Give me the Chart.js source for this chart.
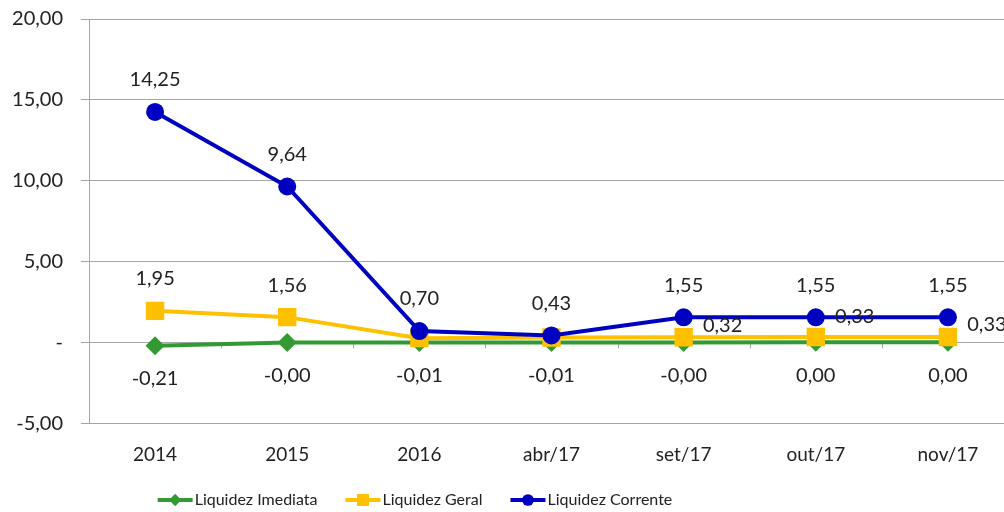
<!DOCTYPE html>
<html>
<head>
<meta charset="utf-8">
<script src="https://cdn.jsdelivr.net/npm/chart.js@4.4.0/dist/chart.umd.min.js"></script>
<style>
    html, body { margin: 0; padding: 0; background: #fff; overflow: hidden; }
    #grafico { display: block; }
</style>
</head>
<body>
<canvas id="grafico" width="1027" height="512"></canvas>
<script>
// --- Dados ---
const categorias = ['2014', '2015', '2016', 'abr/17', 'set/17', 'out/17', 'nov/17'];
const liquidezImediata = [-0.21, -0.004, -0.01, -0.01, -0.003, 0.003, 0.003];
const liquidezGeral = [1.95, 1.56, 0.26, 0.30, 0.32, 0.33, 0.33];
const liquidezCorrente = [14.25, 9.64, 0.70, 0.43, 1.55, 1.55, 1.55];
const nomesSeries = ['Liquidez Imediata', 'Liquidez Geral', 'Liquidez Corrente'];
const ticksY = [-5, 0, 5, 10, 15, 20];
// rótulos ocultos no original (ficam por baixo da linha azul)
const rotulosOcultosGeral = [2, 3];

const FONTE = 'Lato, "Open Sans", sans-serif';
const COR_TEXTO = '#222';
const COR_GRADE = '#a6a6a6';

// formato brasileiro com duas casas
const fmt = (v) => v.toFixed(2).replace('.', ',');

// --- Rótulos de dados ---
const pluginRotulos = {
    id: 'rotulos',
    afterDatasetsDraw(chart) {
        const ctx = chart.ctx;
        ctx.save();
        ctx.font = '20px ' + FONTE;
        ctx.fillStyle = COR_TEXTO;
        ctx.textAlign = 'center';
        ctx.textBaseline = 'middle';
        chart.data.datasets.forEach((ds, i) => {
            const meta = chart.getDatasetMeta(i);
            meta.data.forEach((pt, j) => {
                const v = ds.data[j];
                let dx = 0, dy = -32;
                if (ds.rotulo === 'abaixo') dy = 33;
                if (ds.rotulo === 'geral') {
                    if (rotulosOcultosGeral.includes(j)) return;
                    if (j >= 4) { dx = 39; dy = j === 5 ? -20 : -12; }
                }
                ctx.fillText(fmt(v), pt.x + dx, pt.y + dy);
            });
        });
        ctx.restore();
    }
};

// --- Marcas de divisão sobre o eixo zero ---
const pluginMarcasEixo = {
    id: 'marcasEixo',
    beforeDatasetsDraw(chart) {
        const { ctx, scales: { x, y } } = chart;
        const y0 = y.getPixelForValue(0);
        const passo = x.getPixelForValue(1) - x.getPixelForValue(0);
        ctx.save();
        ctx.strokeStyle = COR_GRADE;
        ctx.lineWidth = 1;
        for (let i = 0; i <= categorias.length; i++) {
            const px = Math.round(x.getPixelForValue(i) - passo / 2) + 0.5;
            ctx.beginPath();
            ctx.moveTo(px, y0);
            ctx.lineTo(px, y0 + 6);
            ctx.stroke();
        }
        ctx.restore();
    }
};

// --- Legenda desenhada à mão (linha + marcador) ---
const pluginLegenda = {
    id: 'legendaManual',
    afterDraw(chart) {
        const ctx = chart.ctx;
        const centroX = 415, yLeg = 500, larguraLinha = 35, gap = 28;
        ctx.save();
        ctx.font = '16px ' + FONTE;
        ctx.textBaseline = 'middle';
        const itens = chart.data.datasets.map(ds => ({ ds, w: larguraLinha + 2 + ctx.measureText(ds.label).width }));
        const total = itens.reduce((s, it) => s + it.w, 0) + gap * (itens.length - 1);
        let x = centroX - total / 2;
        itens.forEach(({ ds, w }) => {
            ctx.strokeStyle = ds.borderColor;
            ctx.lineWidth = 4;
            ctx.beginPath();
            ctx.moveTo(x, yLeg);
            ctx.lineTo(x + larguraLinha, yLeg);
            ctx.stroke();
            ctx.fillStyle = ds.pointBackgroundColor;
            ctx.strokeStyle = ds.pointBackgroundColor;
            ctx.lineWidth = 0;
            Chart.helpers.drawPoint(ctx, {
                pointStyle: ds.pointStyle,
                radius: ds.pointRadius * 0.65,
                rotation: 0,
                borderWidth: 0
            }, x + larguraLinha / 2, yLeg);
            ctx.fillStyle = COR_TEXTO;
            ctx.fillText(ds.label, x + larguraLinha + 2, yLeg);
            x += w + gap;
        });
        ctx.restore();
    }
};

function serie(label, data, cor, estilo, raio, rotulo, ordem) {
    return {
        label, data, rotulo,
        order: ordem,
        borderColor: cor,
        backgroundColor: cor,
        pointBackgroundColor: cor,
        pointBorderColor: cor,
        pointBorderWidth: 0,
        pointStyle: estilo,
        pointRadius: raio,
        pointHoverRadius: raio,
        borderWidth: 4,
        tension: 0
    };
}

new Chart(document.getElementById('grafico'), {
    type: 'line',
    data: {
        labels: categorias,
        datasets: [
            serie(nomesSeries[0], liquidezImediata, '#339933', 'rectRot', 9.5, 'abaixo', 2),
            serie(nomesSeries[1], liquidezGeral, '#ffc000', 'rect', 13, 'geral', 1),
            serie(nomesSeries[2], liquidezCorrente, '#0000c0', 'circle', 9, 'acima', 0)
        ]
    },
    options: {
        responsive: false,
        animation: false,
        layout: { padding: { top: 19, right: 0, bottom: 26, left: 0 } },
        plugins: {
            legend: { display: false },
            tooltip: { enabled: false }
        },
        scales: {
            x: {
                offset: true,
                grid: { display: false, drawTicks: false },
                border: { display: false },
                ticks: { color: COR_TEXTO, font: { family: FONTE, size: 19 }, padding: 20, maxRotation: 0 }
            },
            y: {
                min: -5,
                max: 20,
                afterFit: (scale) => {
                    scale.width = 89;
                    scale.paddingTop = 0;
                    scale.paddingBottom = 0;
                },
                afterBuildTicks: (scale) => { scale.ticks = ticksY.map(v => ({ value: v })); },
                grid: { color: COR_GRADE, tickLength: 8, tickColor: COR_GRADE },
                border: { display: true, color: COR_GRADE },
                ticks: {
                    color: COR_TEXTO,
                    font: { family: FONTE, size: 20 },
                    padding: 18,
                    callback: (v) => v === 0 ? '-' : fmt(v)
                }
            }
        }
    },
    plugins: [pluginMarcasEixo, pluginRotulos, pluginLegenda]
});
</script>
</body>
</html>
